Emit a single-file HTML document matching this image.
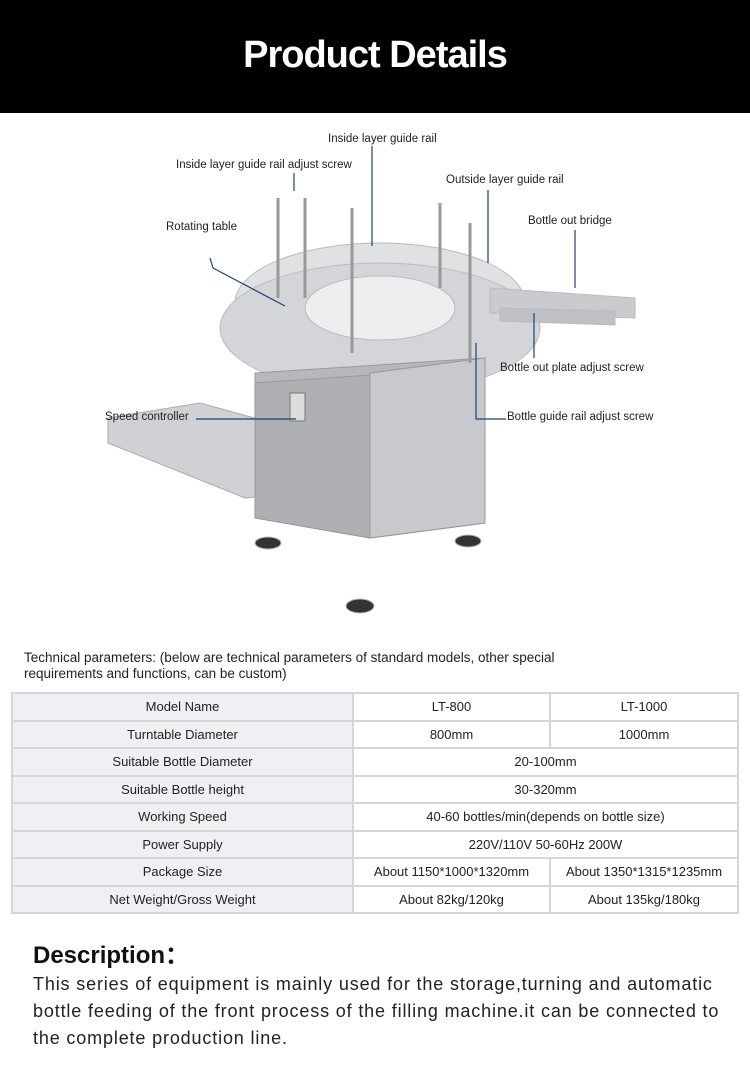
<!DOCTYPE html>
<html><head><meta charset="utf-8"><style>
body{margin:0;width:750px;height:1075px;background:#fff;font-family:"Liberation Sans",sans-serif;position:relative;overflow:hidden}
.hdr{position:absolute;left:0;top:0;width:750px;height:113px;background:#000;color:#fff;text-align:center;font:bold 38px/110px "Liberation Sans Narrow","Liberation Sans",sans-serif;letter-spacing:-1px}
.lbl{position:absolute;font-size:11.5px;color:#222;white-space:nowrap}
.tp{position:absolute;left:24px;top:650px;font-size:13.5px;line-height:16px;color:#222}
table{position:absolute;left:11px;top:692px;width:728px;border-collapse:collapse;font-size:13px;color:#222}
td{border:2px solid #d6d6d6;height:25.5px;text-align:center;padding:0}
td.h{background:#eef0f3;width:339px}
.dh{position:absolute;left:33px;top:935px;font-weight:bold;font-size:24px;color:#111}
.db{position:absolute;left:33px;top:971px;width:710px;font-size:18px;line-height:27px;color:#222;letter-spacing:0.85px;white-space:nowrap}
</style></head><body>
<div class="hdr">Product Details</div>
<svg style="position:absolute;left:0;top:113px" width="750" height="520">
<g fill="none" stroke="#b9bbbe">
<polygon points="108,305 200,290 345,330 340,375 245,385 108,330" fill="#cfd1d4" stroke="#aaa"/>
<ellipse cx="380" cy="190" rx="145" ry="60" fill="#dfe1e3"/>
<ellipse cx="380" cy="215" rx="160" ry="65" fill="#d3d5d8"/>
<ellipse cx="380" cy="195" rx="75" ry="32" fill="#eceeef"/>
<polygon points="490,175 635,185 635,205 490,200" fill="#c9cbce"/>
<polygon points="500,195 615,198 615,212 500,208" fill="#bfc1c4"/>
<polygon points="255,260 485,245 485,410 370,425 255,405" fill="#b6b8bb" stroke="#999"/>
<polygon points="370,425 485,410 485,245 370,260" fill="#c7c9cc" stroke="#999"/>
<polygon points="255,270 370,262 370,425 255,405" fill="#aeb0b3" stroke="#999"/>
<ellipse cx="268" cy="430" rx="13" ry="6" fill="#333"/>
<ellipse cx="468" cy="428" rx="13" ry="6" fill="#333"/>
<ellipse cx="360" cy="493" rx="14" ry="7" fill="#333"/>
<rect x="290" y="280" width="15" height="28" fill="#ddd" stroke="#777"/>
<line x1="278" y1="85" x2="278" y2="185" stroke="#999" stroke-width="3"/>
<line x1="305" y1="85" x2="305" y2="185" stroke="#999" stroke-width="3"/>
<line x1="440" y1="90" x2="440" y2="175" stroke="#999" stroke-width="3"/>
<line x1="352" y1="95" x2="352" y2="240" stroke="#999" stroke-width="3"/>
<line x1="470" y1="110" x2="470" y2="250" stroke="#999" stroke-width="3"/>
</g>
<g stroke="#1f3f7a" stroke-width="1.2" fill="none">
<line x1="294" y1="60" x2="294" y2="78"/>
<line x1="372" y1="33" x2="372" y2="133"/>
<line x1="488" y1="77" x2="488" y2="150"/>
<line x1="575" y1="117" x2="575" y2="175"/>
<polyline points="210,145 213,155 285,193"/>
<polyline points="534,200 534,245"/>
<polyline points="196,306 296,306"/>
<polyline points="476,230 476,306 506,306"/>
</g>
</svg>
<div class="lbl" style="left:328px;top:133px">Inside layer guide rail</div>
<div class="lbl" style="left:176px;top:159px">Inside layer guide rail adjust screw</div>
<div class="lbl" style="left:446px;top:174px">Outside layer guide rail</div>
<div class="lbl" style="left:166px;top:221px">Rotating table</div>
<div class="lbl" style="left:528px;top:215px">Bottle out bridge</div>
<div class="lbl" style="left:500px;top:362px">Bottle out plate adjust screw</div>
<div class="lbl" style="left:105px;top:411px">Speed controller</div>
<div class="lbl" style="left:507px;top:411px">Bottle guide rail adjust screw</div>
<div class="tp">Technical parameters: (below are technical parameters of standard models, other special<br>requirements and functions, can be custom)</div>
<table>
<tr><td class="h">Model Name</td><td>LT-800</td><td>LT-1000</td></tr>
<tr><td class="h">Turntable Diameter</td><td>800mm</td><td>1000mm</td></tr>
<tr><td class="h">Suitable Bottle Diameter</td><td colspan="2">20-100mm</td></tr>
<tr><td class="h">Suitable Bottle height</td><td colspan="2">30-320mm</td></tr>
<tr><td class="h">Working Speed</td><td colspan="2">40-60 bottles/min(depends on bottle size)</td></tr>
<tr><td class="h">Power Supply</td><td colspan="2">220V/110V 50-60Hz 200W</td></tr>
<tr><td class="h">Package Size</td><td style="width:195px">About 1150*1000*1320mm</td><td>About 1350*1315*1235mm</td></tr>
<tr><td class="h">Net Weight/Gross Weight</td><td>About 82kg/120kg</td><td>About 135kg/180kg</td></tr>
</table>
<div class="dh">Description：</div>
<div class="db">This series of equipment is mainly used for the storage,turning and automatic<br>bottle feeding of the front process of the filling machine.it can be connected to<br>the complete production line.</div>
</body></html>
